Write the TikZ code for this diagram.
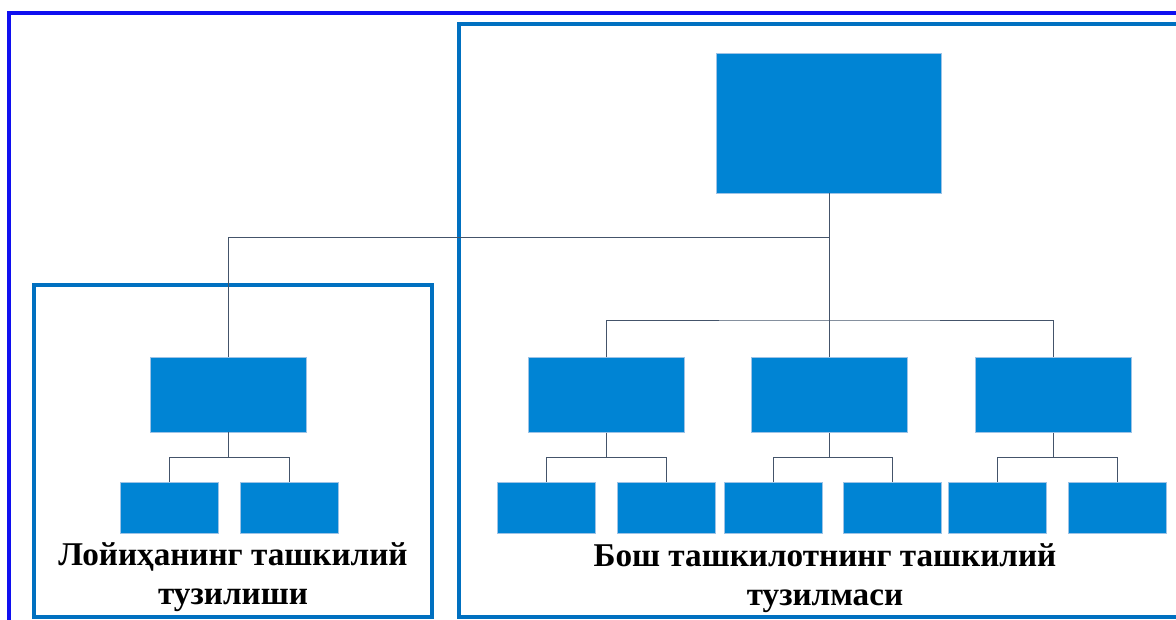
\documentclass[tikz,border=0pt]{standalone}
\usepackage{fontspec}
\setmainfont{Liberation Serif}
\definecolor{boxfill}{HTML}{0084D4}
\definecolor{boxedge}{HTML}{9DC3E6}
\definecolor{grp}{HTML}{0070C0}
\definecolor{outer}{HTML}{1010F0}
\definecolor{conn}{HTML}{44546A}
\tikzset{
  unit/.style={rectangle, fill=boxfill, draw=boxedge, line width=0.4pt, inner sep=0pt},
  bigbox/.style={unit, minimum width=225pt, minimum height=140pt},
  midbox/.style={unit, minimum width=156pt, minimum height=75pt},
  leafbox/.style={unit, minimum width=98pt, minimum height=51pt},
  link/.style={draw=conn, line width=0.9pt},
  group/.style={draw=grp, line width=4pt},
  caption/.style={align=center, font=\fontsize{33.2}{39}\selectfont\bfseries, inner sep=0pt, anchor=base}
}
\begin{document}
\begin{tikzpicture}[x=1pt,y=-1pt]
\useasboundingbox (0,0) rectangle (1176,619);
\clip (0,0) rectangle (1176,619);
% outer frame
\draw[draw=outer, line width=4pt] (9,13) rectangle (1200,650);
% group frames
\draw[group] (34,285) rectangle (432,617);
\draw[group] (459,24) rectangle (1178,617);
% nodes
\node[bigbox] (top) at (829,123) {};
\node[midbox] (lm) at (228.5,394.5) {};
\node[midbox] (b1) at (606,395) {};
\node[midbox] (b2) at (829,395) {};
\node[midbox] (b3) at (1053.5,395) {};
\node[leafbox] (la) at (169,507.5) {};
\node[leafbox] (lb) at (289,507.5) {};
\node[leafbox] (l1a) at (546,507.5) {};
\node[leafbox] (l1b) at (666.5,507.5) {};
\node[leafbox] (l2a) at (773,507.5) {};
\node[leafbox] (l2b) at (892.5,507.5) {};
\node[leafbox] (l3a) at (997,507.5) {};
\node[leafbox] (l3b) at (1117,507.5) {};
% junctions
\coordinate (j0) at (829,237);
\coordinate (j1) at (829,320);
% connectors
\draw[link] (top.south) -- (b2.north);
\draw[link] (lm.north) |- (j0);
\draw[link] (b1.north) |- (j1) -| (b3.north);
\draw[link] (lm.south) -- ++(0,25) -| (la.north);
\draw[link] (lm.south) ++(0,25) -| (lb.north);
\draw[link] (b1.south) -- ++(0,25) -| (l1a.north);
\draw[link] (b1.south) ++(0,25) -| (l1b.north);
\draw[link] (b2.south) -- ++(0,25) -| (l2a.north);
\draw[link] (b2.south) ++(0,25) -| (l2b.north);
\draw[link] (b3.south) -- ++(0,25) -| (l3a.north);
\draw[link] (b3.south) ++(0,25) -| (l3b.north);
% captions (anchor = baseline of last line)
\node[caption] (capl) at (233,604) {Лойиҳанинг ташкилий\\тузилиши};
\node[caption] (capr) at (825,605) {Бош ташкилотнинг ташкилий\\тузилмаси};
\end{tikzpicture}
\end{document}
